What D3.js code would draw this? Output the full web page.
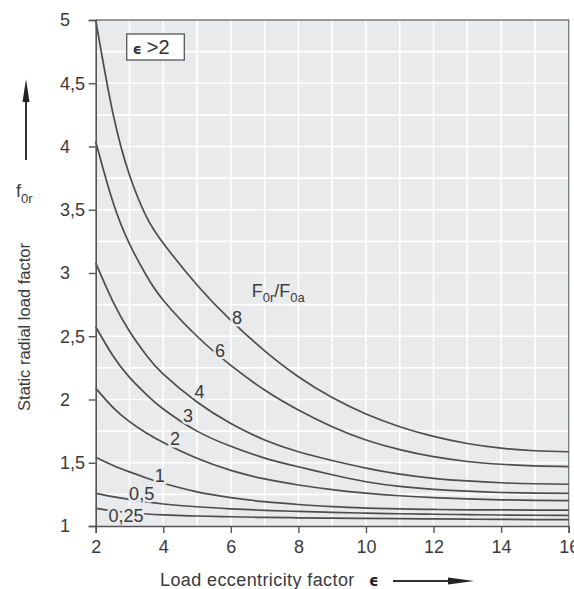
<!DOCTYPE html>
<html>
<head>
<meta charset="utf-8">
<script src="https://cdn.jsdelivr.net/npm/d3@7"></script>
<style>
body { margin: 0; background: #fff; }
svg { display: block; font-family: "Liberation Sans", Arial, sans-serif; }
</style>
</head>
<body>
<svg width="574" height="589"></svg>
<script>
// eccentricity values shared by all curves
let eps = [2, 2.5, 3, 3.5, 4, 5, 6, 7, 8, 9, 10, 11, 12, 13, 14, 15, 16];

// f0r for each F0r/F0a ratio
let ratio8   = [5.00, 4.275, 3.775, 3.445, 3.235, 2.905, 2.625, 2.385, 2.18, 2.015, 1.885, 1.785, 1.708, 1.652, 1.615, 1.595, 1.587];
let ratio6   = [4.04, 3.57, 3.23, 2.98, 2.785, 2.50, 2.27, 2.075, 1.917, 1.785, 1.68, 1.604, 1.548, 1.51, 1.488, 1.475, 1.47];
let ratio4   = [3.08, 2.78, 2.54, 2.35, 2.20, 1.98, 1.81, 1.68, 1.587, 1.518, 1.458, 1.41, 1.377, 1.356, 1.342, 1.334, 1.33];
let ratio3   = [2.575, 2.35, 2.175, 2.04, 1.925, 1.75, 1.63, 1.537, 1.468, 1.405, 1.35, 1.313, 1.29, 1.275, 1.265, 1.26, 1.258];
let ratio2   = [2.09, 1.94, 1.825, 1.735, 1.66, 1.535, 1.44, 1.372, 1.324, 1.288, 1.26, 1.239, 1.224, 1.214, 1.207, 1.203, 1.20];
let ratio1   = [1.543, 1.48, 1.428, 1.38, 1.338, 1.27, 1.225, 1.192, 1.17, 1.153, 1.142, 1.135, 1.131, 1.128, 1.127, 1.126, 1.125];
let ratio05  = [1.258, 1.232, 1.21, 1.19, 1.174, 1.152, 1.136, 1.124, 1.115, 1.108, 1.102, 1.097, 1.093, 1.09, 1.087, 1.085, 1.083];
let ratio025 = [1.14, 1.12, 1.105, 1.095, 1.088, 1.079, 1.073, 1.068, 1.065, 1.062, 1.06, 1.058, 1.056, 1.054, 1.052, 1.051, 1.05];

let ratioNames = ["8", "6", "4", "3", "2", "1", "0,5", "0,25"];
let labelEps = [6.18, 5.68, 5.07, 4.73, 4.35, 3.90, 3.36, 2.90];
let labelF   = [2.652, 2.387, 2.063, 1.874, 1.692, 1.403, 1.257, 1.079];

let xTicks = [2, 4, 6, 8, 10, 12, 14, 16];
let yTicks = [1, 1.5, 2, 2.5, 3, 3.5, 4, 4.5, 5];

let series = [ratio8, ratio6, ratio4, ratio3, ratio2, ratio1, ratio05, ratio025];

let margin = {top: 20, right: 5.3, bottom: 63, left: 95.7};
let width = 574 - margin.left - margin.right;
let height = 589 - margin.top - margin.bottom;

let svg = d3.select('svg');
let chart = svg.append('g').attr('transform', `translate(${margin.left}, ${margin.top})`);

let x = d3.scaleLinear().domain([2, 16]).range([0, width]);
let y = d3.scaleLinear().domain([1, 5]).range([height, 0]);

// plot background and grid
chart.append('rect').attr('width', width).attr('height', height).attr('fill', '#e9eaec');

chart.append('g').selectAll('line').data(d3.range(3, 16)).enter().append('line')
    .attr('x1', d => x(d)).attr('x2', d => x(d)).attr('y1', 0).attr('y2', height)
    .attr('stroke', '#fff').attr('stroke-width', 1.6);
chart.append('g').selectAll('line').data(d3.range(1.25, 5, 0.25)).enter().append('line')
    .attr('x1', 0).attr('x2', width).attr('y1', d => y(d)).attr('y2', d => y(d))
    .attr('stroke', '#fff').attr('stroke-width', 1.6);

// top and right frame
chart.append('path').attr('d', `M0,0H${width}V${height}`)
    .attr('fill', 'none').attr('stroke', '#7a7a7a').attr('stroke-width', 1.3);

// curves
let line = d3.line().x((d, i) => x(eps[i])).y(d => y(d)).curve(d3.curveNatural);
chart.append('g').selectAll('path').data(series).enter().append('path')
    .attr('d', d => line(d))
    .attr('fill', 'none').attr('stroke', '#4d4d4d').attr('stroke-width', 1.7);

// curve labels
chart.append('g').selectAll('text').data(ratioNames).enter().append('text')
    .attr('x', (d, i) => x(labelEps[i])).attr('y', (d, i) => y(labelF[i]))
    .attr('dy', '0.36em').attr('text-anchor', 'middle')
    .attr('font-size', 18).attr('fill', '#3a3a3a')
    .attr('stroke', '#e9eaec').attr('stroke-width', 5).attr('paint-order', 'stroke')
    .text(d => d);

// axes
let xAxisG = chart.append('g').attr('transform', `translate(0, ${height})`)
    .call(d3.axisBottom(x).tickValues(xTicks).tickSize(7).tickPadding(7.5));
let yAxisG = chart.append('g')
    .call(d3.axisLeft(y).tickValues(yTicks).tickSize(7).tickFormat(d => String(d).replace('.', ',')));

[xAxisG, yAxisG].forEach(g => {
    g.select('.domain').attr('stroke', '#555').attr('stroke-width', 1.6);
    g.selectAll('.tick line').attr('stroke', '#555').attr('stroke-width', 1.4);
    g.selectAll('.tick text').attr('font-size', 18).attr('fill', '#3a3a3a')
        .attr('font-family', '"Liberation Sans", Arial, sans-serif');
});
yAxisG.selectAll('.tick text').attr('text-anchor', 'start').attr('x', 60 - margin.left);

// "e > 2" box
let box = chart.append('g');
box.append('rect').attr('x', 31).attr('y', 14).attr('width', 57.6).attr('height', 26)
    .attr('fill', '#fff').attr('stroke', '#555').attr('stroke-width', 1.3);
let boxText = box.append('text').attr('x', 37).attr('y', 34).attr('font-size', 20).attr('fill', '#333');
boxText.append('tspan').attr('font-family', '"DejaVu Sans", sans-serif').attr('font-weight', 'bold').attr('font-size', 14).text('ϵ');
boxText.append('tspan').attr('dx', 5).text('>2');

// F0r/F0a legend title
let ft = chart.append('text').attr('x', 251.7 - margin.left).attr('y', 296.7 - margin.top)
    .attr('font-size', 18).attr('fill', '#3a3a3a');
ft.append('tspan').text('F');
ft.append('tspan').attr('font-size', 13).attr('dy', 5).text('0r');
ft.append('tspan').attr('dy', -5).text('/F');
ft.append('tspan').attr('font-size', 13).attr('dy', 5).text('0a');

// axis titles
svg.append('text').attr('x', 160).attr('y', 585.5).attr('font-size', 18)
    .attr('letter-spacing', 0.4).attr('fill', '#3a3a3a').text('Load eccentricity factor');
svg.append('text').attr('x', 369).attr('y', 585.5).attr('font-size', 15).attr('font-weight', 'bold')
    .attr('font-family', '"DejaVu Sans", sans-serif').attr('fill', '#222').text('ϵ');

svg.append('text').attr('transform', 'translate(29.5, 327) rotate(-90)')
    .attr('text-anchor', 'middle').attr('font-size', 16.5).attr('fill', '#3a3a3a')
    .text('Static radial load factor');

let fy = svg.append('text').attr('x', 16).attr('y', 197).attr('font-size', 18).attr('fill', '#3a3a3a');
fy.append('tspan').text('f');
fy.append('tspan').attr('font-size', 13).attr('dy', 6).text('0r');

// arrows
svg.append('line').attr('x1', 26).attr('x2', 26).attr('y1', 160).attr('y2', 98)
    .attr('stroke', '#333').attr('stroke-width', 2);
svg.append('path').attr('d', 'M26,79 L29.5,102 L22.5,102 Z').attr('fill', '#222');
svg.append('line').attr('x1', 393).attr('x2', 452).attr('y1', 581).attr('y2', 581)
    .attr('stroke', '#333').attr('stroke-width', 2);
svg.append('path').attr('d', 'M474,581 L448,577.5 L448,584.5 Z').attr('fill', '#222');
</script>
</body>
</html>
